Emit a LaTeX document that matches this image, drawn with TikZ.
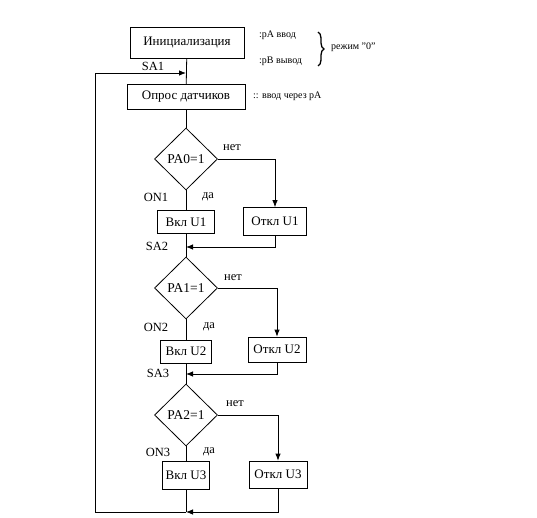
\documentclass[tikz,border=0pt]{standalone}
\usepackage{fontspec}
\setmainfont{Liberation Serif}
\usepackage{tikz}
\usetikzlibrary{arrows.meta,shapes.geometric,decorations.pathreplacing}
\tikzset{
  procbox/.style={rectangle,draw=black,line width=0.8pt,inner sep=1pt,font=\fontsize{13}{15}\selectfont},
  decision/.style={diamond,draw=black,line width=0.8pt,inner sep=0pt,minimum width=63pt,minimum height=62pt,font=\fontsize{13.5}{15}\selectfont},
  lbl/.style={inner sep=0pt,font=\fontsize{12.5}{14}\selectfont},
  note/.style={anchor=west,inner sep=0pt,font=\fontsize{10}{12}\selectfont},
  line/.style={draw=black,line width=0.8pt},
  arrow/.style={line,-{Latex[length=7pt,width=5.5pt]}}
}

\begin{document}
\begin{tikzpicture}[x=1pt,y=-1pt]
  \useasboundingbox (0,0) rectangle (537,518);
  \node[procbox,minimum width=114pt,minimum height=31pt] (init) at (187,42.5) {Инициализация};
  \node[procbox,minimum width=118pt,minimum height=25pt] (poll) at (186,97) {Опрос датчиков};
  \node[decision] (d0) at (186,159) {PA0=1};
  \node[procbox,minimum width=57pt,minimum height=23pt] (on1) at (186,222) {Вкл U1};
  \node[procbox,minimum width=63pt,minimum height=28pt] (off1) at (275,221.5) {Откл U1};
  \node[decision] (d1) at (186,288) {PA1=1};
  \node[procbox,minimum width=51pt,minimum height=23pt] (on2) at (186,351.5) {Вкл U2};
  \node[procbox,minimum width=58pt,minimum height=25pt] (off2) at (277,349.5) {Откл U2};
  \node[decision] (d2) at (186,415) {PA2=1};
  \node[procbox,minimum width=47pt,minimum height=28pt] (on3) at (186,475) {Вкл U3};
  \node[procbox,minimum width=58pt,minimum height=27pt] (off3) at (278,474.5) {Откл U3};

  \coordinate (sa1) at (186,73);
  \coordinate (sa2) at (186,247);
  \coordinate (sa3) at (186,374);
  \coordinate (sa4) at (186,512);
  \coordinate (loop) at (95,512);

  % labels
  \node[lbl] (sa1lbl) at (153,66) {SA1};
  \node[lbl] (sa2lbl) at (157,246) {SA2};
  \node[lbl] (sa3lbl) at (158,373) {SA3};
  \node[lbl] (on1lbl) at (156,197) {ON1};
  \node[lbl] (on2lbl) at (156,327) {ON2};
  \node[lbl] (on3lbl) at (158,452) {ON3};
  \node[lbl] (yes1) at (208,197) {да};
  \node[lbl] (yes2) at (209,327) {да};
  \node[lbl] (yes3) at (209,452) {да};
  \node[lbl] (no1) at (232,148) {нет};
  \node[lbl] (no2) at (233,278) {нет};
  \node[lbl] (no3) at (235,404) {нет};

  % comments on the right
  \node[note] (pa) at (259,35) {:pA ввод};
  \node[note] (pb) at (259,61) {:pB вывод};
  \node[note] (mode) at (331,47) {режим "0"};
  \node[note] (pollnote) at (253,96) {:: ввод через pA};
  \draw[line,line width=1.3pt,decorate,decoration={brace,amplitude=6pt}] (318,32) -- (318,66);

  \draw[line] (init) -- (poll);
  \draw[line] (poll) -- (d0);
  \draw[line] (d0) -- (on1);
  \draw[arrow] (d0) -| (off1);
  \draw[line] (on1) -- (d1);
  \draw[arrow] (off1) |- (sa2);
  \draw[line] (d1) -- (on2);
  \draw[arrow] (d1) -| (off2);
  \draw[line] (on2) -- (d2);
  \draw[arrow] (off2) |- (sa3);
  \draw[line] (d2) -- (on3);
  \draw[arrow] (d2) -| (off3);
  \draw[line] (on3) -- (sa4);
  \draw[arrow] (off3) |- (sa4);
  \draw[arrow] (sa4) -- (loop) |- (sa1);
\end{tikzpicture}
\end{document}
